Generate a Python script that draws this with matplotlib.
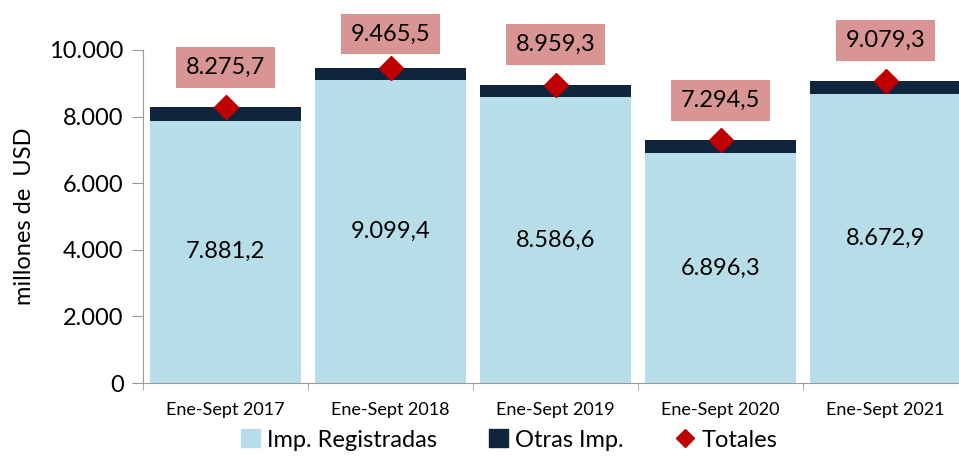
import matplotlib.pyplot as plt
import numpy as np
from matplotlib.lines import Line2D
from matplotlib.patches import Patch

plt.rcParams["font.family"] = ["Lato", "DejaVu Sans"]

categories = ["Ene-Sept 2017", "Ene-Sept 2018", "Ene-Sept 2019", "Ene-Sept 2020", "Ene-Sept 2021"]
registradas = [7881.2, 9099.4, 8586.6, 6896.3, 8672.9]
totales = [8275.7, 9465.5, 8959.3, 7294.5, 9079.3]
otras = [t - r for t, r in zip(totales, registradas)]


def fmt(v):
    s = f"{v:,.1f}"
    return s.replace(",", "X").replace(".", ",").replace("X", ".")


C_REG = "#b7dde8"
C_OTR = "#10243e"
C_TOT = "#c00000"
C_BOX = "#d99594"

fig = plt.figure(figsize=(9.59, 4.57), dpi=100)
ax = fig.add_axes([143 / 959, 1 - 383 / 457, 825 / 959, 333 / 457])

x = np.arange(len(categories))
ax.bar(x, registradas, width=0.91, color=C_REG, zorder=2)
ax.bar(x, otras, bottom=registradas, width=0.91, color=C_OTR, zorder=2)
ax.plot(x, totales, linestyle="none", marker="D", markersize=12, color=C_TOT, zorder=4)

ax.set_xlim(-0.5, len(categories) - 0.5)
ax.set_ylim(0, 10000)
ax.set_yticks(np.arange(0, 10001, 2000))
ax.set_yticklabels([fmt(v)[:-2] if v else "0" for v in np.arange(0, 10001, 2000)], fontsize=17)
ax.set_xticks(x)
ax.set_xticklabels(categories, fontsize=13)
ax.tick_params(axis="x", length=0, pad=14)
ax.set_xticks(np.arange(-0.5, len(categories)), minor=True)
ax.tick_params(axis="x", which="minor", length=5, color="#999999")
ax.tick_params(axis="y", length=8, color="#999999", pad=6)

for side in ("top", "right"):
    ax.spines[side].set_visible(False)
for side in ("left", "bottom"):
    ax.spines[side].set_color("#999999")

ax.set_ylabel("millones de  USD", fontsize=17, labelpad=10)

for xi, r in zip(x, registradas):
    ax.text(xi, r / 2, fmt(r), ha="center", va="center", fontsize=17, zorder=5)

fig.canvas.draw()
for xi, t in zip(x, totales):
    px = ax.transData.transform((xi, t))
    cy = min(px[1] + 40, 457 - 34)
    ax.annotate(fmt(t), xy=(px[0], cy), xycoords="figure pixels", ha="center", va="center",
                fontsize=17, annotation_clip=False, zorder=6,
                bbox=dict(boxstyle="square,pad=0.42", fc=C_BOX, ec="none"))

handles = [
    Patch(color=C_REG, label="Imp. Registradas"),
    Patch(color=C_OTR, label="Otras Imp."),
    Line2D([], [], linestyle="none", marker="D", markersize=9, color=C_TOT, label="Totales"),
]
fig.legend(handles=handles, loc="center", bbox_to_anchor=(509 / 959, 1 - 440 / 457), ncol=3,
           frameon=False, fontsize=17, handlelength=0.8, handleheight=0.8, handletextpad=0.3,
           columnspacing=2.2)

fig.savefig("out.png", dpi=100)
